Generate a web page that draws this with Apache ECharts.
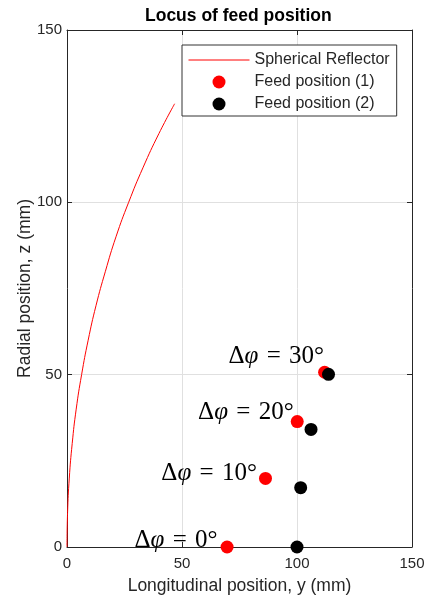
<!DOCTYPE html>
<html>
<head>
<meta charset="utf-8">
<script src="https://cdn.jsdelivr.net/npm/echarts@6/dist/echarts.min.js"></script>
<style>
  html, body { margin: 0; padding: 0; background: #fff; }
  #container { width: 428px; height: 596px; }
</style>
</head>
<body>
<div id="container"></div>
<script>
// reflector arc: longitudinal y vs radial z (mm)
var reflectorY = [0, 0.25, 1.0, 2.26, 4.0, 6.35, 9.2, 12.6, 16.7, 21.3, 26.8, 33.0, 40.0, 46.8]
var reflectorZ = [0, 10, 20, 30, 40, 50, 60, 70, 80, 90, 100, 110, 120, 128.6]

// feed positions
var feed1Y = [69.6, 86.3, 100.1, 112.0]
var feed1Z = [0, 19.9, 36.4, 50.7]
var feed2Y = [100.0, 101.6, 106.1, 113.7]
var feed2Z = [0, 17.2, 34.1, 50.1]
var deltaPhi = [0, 10, 20, 30]

var xTicks = [0, 50, 100, 150]
var yTicks = [0, 50, 100, 150]

// where each angle label sits relative to its red point
var labelOffsets = [[-3, -7], [-2, -5], [3, -9], [6, -16]]

;(function() {
  var dom = document.getElementById('container')
  var myChart = echarts.init(dom)
  var sans = 'Liberation Sans, Arial, sans-serif'
  var serif = 'Liberation Serif, serif'
  var axisColor = '#262626'

  function pairs(xs, ys) {
    var out = []
    for (var i = 0; i < xs.length; i++) out.push([xs[i], ys[i]])
    return out
  }

  var feed1Data = []
  for (var i = 0; i < feed1Y.length; i++) {
    feed1Data.push({
      value: [feed1Y[i], feed1Z[i]],
      angle: deltaPhi[i],
      label: { offset: labelOffsets[i] }
    })
  }

  function baseAxis(pos, ticks) {
    return {
      type: 'value',
      position: pos,
      min: ticks[0],
      max: ticks[ticks.length - 1],
      interval: ticks[1] - ticks[0],
      axisLine: { show: true, onZero: false, lineStyle: { color: axisColor, width: 1 } },
      axisTick: { show: true, inside: true, length: 5, lineStyle: { color: axisColor } },
      splitLine: { show: false },
      axisLabel: { show: false }
    }
  }

  var xMain = baseAxis('bottom', xTicks)
  xMain.splitLine = { show: true, lineStyle: { color: '#e0e0e0' } }
  xMain.axisLabel = { show: true, color: axisColor, fontSize: 15, fontFamily: sans, margin: 9 }
  xMain.name = 'Longitudinal position, y (mm)'
  xMain.nameLocation = 'middle'
  xMain.nameGap = 30
  xMain.nameMoveOverlap = false
  xMain.nameTextStyle = { color: axisColor, fontSize: 17.5, fontFamily: sans }

  var yMain = baseAxis('left', yTicks)
  yMain.splitLine = { show: true, lineStyle: { color: '#e0e0e0' } }
  yMain.axisLabel = { show: true, color: axisColor, fontSize: 15, fontFamily: sans, margin: 5 }
  yMain.name = 'Radial position, z (mm)'
  yMain.nameLocation = 'middle'
  yMain.nameGap = 33
  yMain.nameMoveOverlap = false
  yMain.nameTextStyle = { color: axisColor, fontSize: 17.5, fontFamily: sans }

  var option = {
    backgroundColor: '#fff',
    animation: false,
    title: {
      text: 'Locus of feed position',
      left: 145,
      top: 7,
      padding: 0,
      textStyle: { color: '#000', fontSize: 17.5, fontWeight: 'bold', fontFamily: sans }
    },
    grid: { left: 67, right: 16, top: 30, bottom: 49, containLabel: false, outerBoundsMode: 'none' },
    legend: {
      orient: 'vertical',
      left: 182,
      top: 45,
      padding: [7, 7, 4, 6],
      itemGap: 6,
      itemWidth: 61,
      itemHeight: 13,
      backgroundColor: '#fff',
      borderColor: '#333',
      borderWidth: 1,
      borderRadius: 0,
      textStyle: { color: axisColor, fontSize: 16, fontFamily: sans },
      data: [
        { name: 'Spherical Reflector', icon: 'line',
          itemStyle: { color: '#ff0000', borderColor: '#ff0000', borderWidth: 1 } },
        'Feed position (1)',
        'Feed position (2)'
      ]
    },
    xAxis: [xMain, baseAxis('top', xTicks)],
    yAxis: [yMain, baseAxis('right', yTicks)],
    series: [
      {
        name: 'Spherical Reflector',
        type: 'line',
        data: pairs(reflectorY, reflectorZ),
        smooth: true,
        symbol: 'none',
        lineStyle: { color: '#ff0000', width: 1 },
        itemStyle: { color: '#ff0000' }
      },
      {
        name: 'Feed position (1)',
        type: 'scatter',
        clip: false,
        symbolSize: 13,
        itemStyle: { color: '#ff0000', opacity: 1 },
        label: {
          show: true,
          position: 'left',
          distance: 0,
          formatter: function(p) { return '{n|Δ}{i|φ}{n|\u2004=\u2004' + p.data.angle + '°}' },
          rich: {
            n: { fontFamily: serif, fontSize: 25, color: '#000' },
            i: { fontFamily: serif, fontSize: 25, fontStyle: 'italic', color: '#000' }
          }
        },
        data: feed1Data
      },
      {
        name: 'Feed position (2)',
        type: 'scatter',
        clip: false,
        symbolSize: 13,
        itemStyle: { color: '#000', opacity: 1 },
        data: pairs(feed2Y, feed2Z)
      }
    ]
  }

  myChart.setOption(option, true)
})()
</script>
</body>
</html>
